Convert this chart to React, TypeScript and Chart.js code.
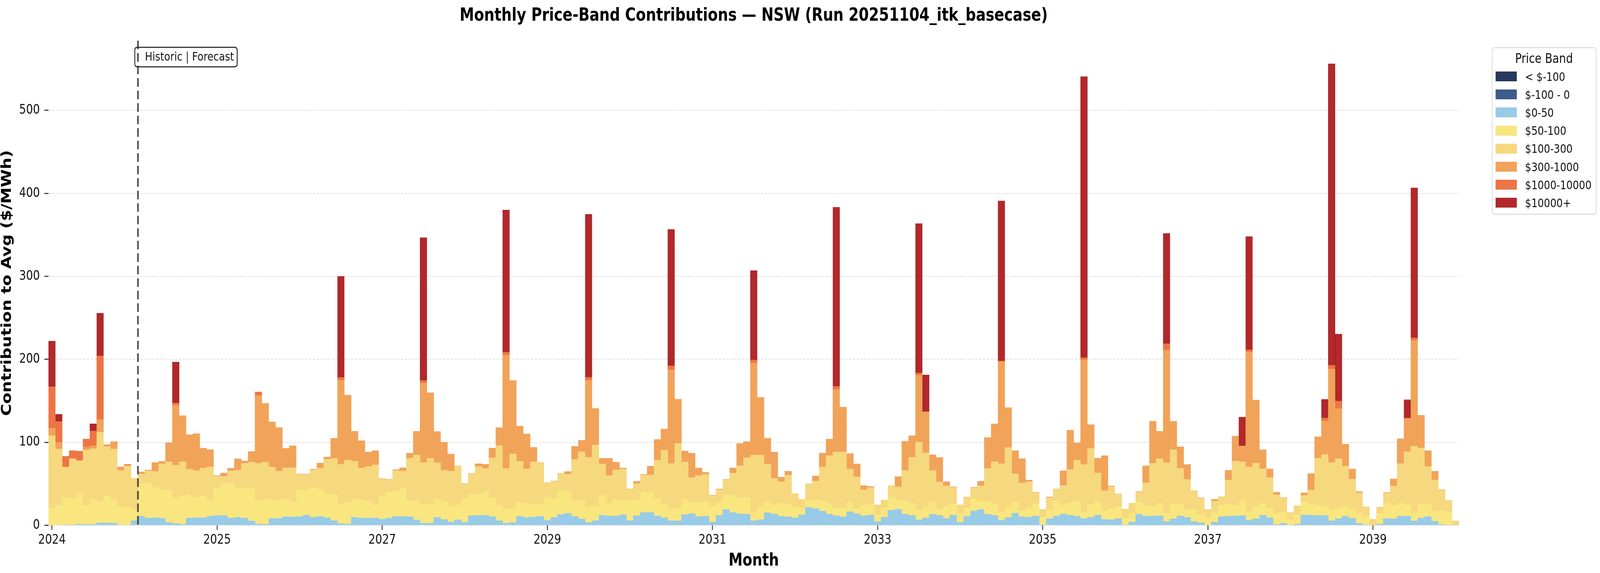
import React, { useEffect, useRef } from "react";
import { Chart, registerables } from "chart.js";

Chart.register(...registerables);

// ---------- Text ----------
const chartTitle = "Monthly Price-Band Contributions — NSW (Run 20251104_itk_basecase)";
const xAxisTitle = "Month";
const yAxisTitle = "Contribution to Avg ($/MWh)";
const legendTitle = "Price Band";
const dividerText = "Historic | Forecast";

// ---------- Categories ----------
const historicStartYear = 2024;
const historicStartMonth = 1;
const historicCount = 13;
const forecastStartYear = 2024;
const forecastStartMonth = 7;
const forecastCount = 192;

function monthLabels(year: number, month: number, count: number): string[] {
  const out: string[] = [];
  let y = year;
  let m = month;
  for (let i = 0; i < count; i++) {
    out.push(`${y}-${String(m).padStart(2, "0")}`);
    m += 1;
    if (m > 12) { m = 1; y += 1; }
  }
  return out;
}

const categories: string[] = [
  ...monthLabels(historicStartYear, historicStartMonth, historicCount),
  ...monthLabels(forecastStartYear, forecastStartMonth, forecastCount),
];

// ---------- Tick labels ----------
const xTickEvery = 24;
const xTickLabels = ["2024", "2025", "2027", "2029", "2031", "2033", "2035", "2037", "2039"];
const yAxisMax = 584;
const yTickStep = 100;

// ---------- Series ----------
const bandNames = ["< $-100", "$-100 - 0", "$0-50", "$50-100", "$100-300", "$300-1000", "$1000-10000", "$10000+"];
const bandColors = ["#26385e", "#3b5d8b", "#97cbe7", "#f9e67f", "#f6d87f", "#f1a35a", "#ed7545", "#b2282b"];
const bandEdges = ["#1f2f50", "#31507a", "#8cc2e2", "#f5df72", "#f1cf70", "#e8913c", "#e4612d", "#9e1a1f"];
const bandEdgeWidths = [0, 0, 0, 0, 0, 0, 0, 1];

const bandBelowNeg100: number[] = [];
const bandNeg100To0: number[] = [];

const band0To50 = [
  0, 0, 0.5, 0, 1.5, 1.3, 1.3, 3, 3, 2.5, 0, 0,
  5.7, 11, 8.8, 9.2, 8.4, 3.5, 2.2, 1.3, 8.8, 9.2, 9.2, 11,
  11.9, 11.9, 8.8, 9.7, 8.8, 5.3, 1.7, 1.3, 8.3, 8.3, 10.5, 10.1,
  10.5, 12.3, 9.8, 10.8, 9.1, 5.7, 2.2, 1.7, 9.8, 8.8, 8.8, 8.9,
  7.4, 8.8, 10.8, 10.8, 10.5, 6.6, 2.5, 2.7, 9.6, 7.1, 4, 6.7,
  3.7, 11.6, 12.1, 12.1, 10.5, 5.7, 2.7, 3.4, 10.8, 9.4, 10.1, 10.8,
  6.1, 9.8, 13.2, 14.5, 10.8, 7.9, 3.5, 5.7, 12.1, 11.3, 11.3, 12.8,
  5.7, 11.6, 15.5, 15.5, 11.3, 9.1, 5.7, 5.4, 13, 14.2, 10.5, 11.1,
  4, 12.1, 18.9, 15.5, 13.8, 13.5, 5.7, 6.7, 15.2, 13.5, 11.1, 10.3,
  9.1, 12.6, 21.9, 20.2, 17.2, 13.5, 11.5, 10.3, 16.5, 14, 11.5, 12.5,
  4.7, 9.8, 18.2, 19.4, 13.5, 12.1, 6.6, 9.1, 13.5, 12, 8.3, 12.3,
  3.5, 11, 17.2, 19.1, 13.5, 12, 6.1, 9.4, 14.7, 10.3, 9.8, 11.3,
  0.7, 7.9, 11.3, 13.7, 12.3, 11, 8.1, 9.8, 12.3, 7.1, 6.7, 8.1,
  0.3, 4, 13.3, 11.1, 11.5, 11.5, 4.7, 7.8, 11.3, 9.6, 4.6, 3,
  0, 4, 10.5, 11, 11.3, 11.8, 6.2, 7.9, 12.3, 9.1, 1, 2.5,
  0, 1.5, 12.5, 12.3, 11.8, 11.8, 5.6, 8.1, 11, 8.6, 2.5, 0.7,
  0, 1.5, 8.1, 7.9, 11.3, 11, 5.4, 8.9, 10.5, 4.9, 1, 0,
  0,
];

const band50To100 = [
  21, 24, 33, 32, 37.5, 22.5, 30.4, 25.6, 33, 28.3, 23.3, 21.6,
  13.7, 38.7, 42.2, 36.6, 34.7, 39.6, 30.4, 33.9, 27.7, 24.3, 26, 19.8,
  33, 37.8, 42.2, 35.6, 35.7, 39.2, 28.3, 30.4, 23.1, 21.4, 21.2, 18.1,
  32.2, 30, 35.4, 32.4, 29, 31.2, 23.6, 25.6, 21.9, 22.1, 20.2, 15.7,
  28, 30.8, 30.3, 34.1, 19.2, 23.2, 23.1, 22.6, 21.8, 21.2, 18.9, 17.8,
  28.5, 25.5, 25.7, 29, 22.6, 18.6, 17.2, 17, 17.4, 17.4, 15.2, 14.2,
  28.3, 21.9, 29.3, 26.8, 18.9, 23.1, 18.6, 17.2, 24.3, 15.7, 20.1, 17.2,
  24.1, 19.4, 24.8, 23.8, 21.2, 16.5, 14, 16.2, 18.4, 13.5, 17.2, 17.4,
  18.9, 15.2, 17.9, 20.6, 19.1, 20.1, 9.8, 16.6, 13.3, 11.1, 15.9, 15.8,
  13.8, 8.3, 8.1, 11.2, 12.5, 13.1, 9.4, 10.3, 11.2, 6.2, 12.8, 13.1,
  8.3, 11.8, 16, 11.5, 16.2, 14.5, 11.3, 13.2, 15, 7.2, 15, 13.3,
  10.7, 9.9, 15, 9.9, 15.7, 13.1, 10.1, 12.7, 13, 7.2, 11.8, 15,
  8.9, 10.6, 18.4, 10.6, 15, 18.2, 7.6, 15.2, 15.9, 10.4, 13.7, 14.3,
  8.5, 10.8, 14.4, 12.7, 11.3, 15.1, 9.8, 17.8, 14.3, 9.6, 14.3, 10.8,
  9.1, 11.3, 13.8, 14.1, 13, 17.7, 10, 15.5, 14.3, 11.5, 13.7, 13.2,
  6.7, 11.3, 15.7, 13.3, 12.5, 10.8, 12.9, 12.8, 12.4, 10.8, 12.5, 10.8,
  0, 13.2, 18.5, 15.9, 15.7, 13.6, 9.3, 16.2, 14.3, 11.8, 16.7, 16.2,
  0,
];

const band100To300 = [
  87, 68, 36.5, 48, 38.5, 67, 60.7, 83.6, 59, 61.2, 42.7, 49.7,
  37.4, 12.3, 14.6, 19.3, 30.9, 33.5, 40, 41.4, 31.3, 32.5, 33.9, 39.6,
  14.5, 9.3, 14.6, 21.2, 30.3, 31.6, 44.9, 44.7, 38.8, 35.6, 37.6, 41.4,
  18.7, 19.1, 21.6, 25.8, 41.5, 43.9, 47.7, 51.3, 45.5, 38.1, 41.8, 48.2,
  20.6, 15.4, 24.8, 20.7, 51.1, 54.9, 50.1, 55.6, 44.1, 38.1, 42.4, 46.8,
  18.2, 25.3, 33, 27.4, 48.2, 71.7, 48.7, 65.8, 48.9, 41.3, 51.3, 50.2,
  16.9, 21.3, 19.9, 20.4, 49.9, 57.7, 59.9, 73.9, 37.5, 33, 35.4, 37.8,
  14.2, 19.3, 20.7, 21.4, 46.1, 65.1, 54.8, 77.2, 45, 30, 32.3, 33.1,
  13.2, 15.5, 18.3, 27, 38.9, 48, 69.2, 61.4, 45.4, 32.1, 25.6, 34.4,
  15.2, 10.5, 20.1, 21.9, 40.5, 57.4, 67.5, 67.8, 40.1, 38.3, 18.4, 19.9,
  11.8, 8.8, 13.7, 15.3, 36.4, 55.4, 82.3, 64.9, 37.6, 33.1, 24.4, 20.3,
  10.6, 13, 13.3, 18.7, 39.4, 51.6, 58, 71.7, 34.4, 33.4, 31, 12.8,
  9.3, 14.9, 14.3, 23.6, 39.8, 49.4, 57.5, 67.7, 35, 24.3, 26.1, 15.5,
  10.8, 11.8, 12.3, 27.5, 51.9, 53.8, 61, 65.6, 43.2, 36.1, 22.8, 18.9,
  9.8, 13.9, 10.3, 29.5, 53.3, 47.1, 54.3, 51.8, 41.5, 36.9, 22.1, 18,
  8.5, 10.5, 7.9, 16.9, 56.5, 62.9, 57.2, 59.5, 47.9, 36.2, 24, 10.9,
  7.4, 7.1, 12.5, 23.6, 47.4, 64.1, 80.7, 68, 46, 37.9, 24.6, 13.5,
  5.1,
];

const band300To1000 = [
  9, 8, 0.7, 1, 1, 3.5, 3.6, 15.4, 1.8, 8.8, 4.4, 1.3,
  0, 2.3, 0.9, 10.6, 3, 22.9, 72.2, 55.4, 41.4, 44.5, 23.8, 20.7,
  0.5, 4, 3.1, 13.6, 2.7, 12.8, 81.6, 70.5, 54.3, 52.4, 23.4, 26.2,
  0.3, 0.3, 0.8, 5.9, 2.7, 24.1, 101.4, 78.2, 36.1, 32.9, 17.6, 17.1,
  0.3, 0.3, 1, 3.7, 6, 28.6, 95.8, 78.8, 37.5, 33.8, 20.4, 0.2,
  0, 0.2, 3.4, 5, 11.8, 21.7, 136.6, 88.2, 42.1, 42, 17.2, 0.3,
  0, 0.3, 0.2, 3.1, 15.5, 13.8, 92.9, 44, 6.7, 20.6, 9.1, 1.3,
  0, 2.7, 0.4, 10.5, 24.8, 25.2, 112.9, 53, 13.1, 29.3, 9.1, 2.1,
  0.3, 0.9, 0.4, 6, 26.7, 19.2, 110.9, 69.4, 31, 31.5, 5.4, 4.6,
  0, 0, 0, 6.1, 16.8, 19.9, 75.5, 53.9, 18.5, 15.4, 5.2, 1.2,
  0, 0, 0, 12.5, 35.1, 25.8, 80.7, 49.6, 18.9, 29.3, 4.7, 0.5,
  0, 0, 0.4, 5.4, 37.1, 45.4, 122.9, 47.9, 27.8, 29.5, 1.9, 0.5,
  0, 0.7, 0, 17.9, 47.4, 20.7, 126.3, 28.5, 17.6, 42, 0.7, 0,
  0, 0, 0.5, 20.2, 50.6, 32.9, 135.6, 34.1, 25.8, 17.9, 0, 0.4,
  0, 2.2, 0, 11.7, 29.8, 19, 138.3, 75.6, 22.8, 10.3, 3, 0,
  0, 0, 3, 19.7, 25.8, 40.3, 112.7, 60.4, 26.5, 12.2, 1.5, 0,
  0, 0, 0.5, 8.4, 29.5, 40.3, 127.7, 39.4, 19.1, 10.5, 0.5, 0,
  0,
];

const band1000To10000 = [
  50, 25, 12.5, 9, 11, 9.7, 17.6, 76.6, 0.4, 0, 0, 0.9,
  0, 0, 0, 0, 0, 0, 2.6, 0, 0, 0, 0, 0,
  0, 0, 0, 0, 0, 0, 4.2, 0, 0, 0, 0, 0,
  0, 0, 0, 0, 0, 0, 3.2, 0, 0, 0, 0, 0,
  0, 0, 0, 0, 0, 0, 2.9, 0, 0, 0, 0, 0,
  0, 0, 0, 0, 0, 0, 3.2, 0, 0.2, 0, 0, 0,
  0, 0, 0, 0, 0, 0, 3.5, 0, 0, 0, 0, 0,
  0, 0, 0, 0, 0, 0, 4.8, 0, 0, 0, 0, 0,
  0, 0, 0, 0, 0, 0, 3.6, 0, 0, 0, 0, 0,
  0, 0, 0, 0, 0, 0, 3.6, 0, 0, 0, 0, 0,
  0, 0, 0, 0, 0, 0, 2.7, 0, 0, 0, 0, 0,
  0, 0, 0, 0, 0, 0, 0.9, 0, 0, 0, 0, 0,
  0, 0, 0, 0, 0, 0, 2.5, 0, 0, 0, 0, 0,
  0, 0, 0, 0, 0, 0, 7.6, 0, 0, 0, 0, 0,
  0, 0, 0, 0, 0, 0, 2.7, 0, 0, 0, 0, 0,
  0, 0, 0, 0, 0, 3.5, 4.3, 8.9, 0, 0, 0, 0,
  0, 0, 0, 0, 0.3, 0, 2.7, 0, 0, 0, 0, 0,
  0,
];

const band10000Plus = [
  55, 9, 0, 0, 0, 0, 8.8, 51.5, 0, 0, 0, 0,
  0, 0, 0, 0, 0, 0, 49.3, 0, 0, 0, 0, 0,
  0, 0, 0, 0, 0, 0, 0, 0, 0, 0, 0, 0,
  0, 0, 0, 0, 0, 0, 121.9, 0, 0, 0, 0, 0,
  0, 0, 0, 0, 0, 0, 172.3, 0, 0, 0, 0, 0,
  0, 0, 0, 0, 0, 0, 171.5, 0, 0, 0, 0, 0,
  0, 0, 0, 0, 0, 0, 196.3, 0, 0, 0, 0, 0,
  0, 0, 0, 0, 0, 0, 164.4, 0, 0, 0, 0, 0,
  0, 0, 0, 0, 0, 0, 107.7, 0, 0, 0, 0, 0,
  0, 0, 0, 0, 0, 0, 215.8, 0, 0, 0, 0, 0,
  0, 0, 0, 0, 0, 0, 180.1, 44.5, 0, 0, 0, 0,
  0, 0, 0, 0, 0, 0, 193, 0, 0, 0, 0, 0,
  0, 0, 0, 0, 0, 0, 338.8, 0, 0, 0, 0, 0,
  0, 0, 0, 0, 0, 0, 133, 0, 0, 0, 0, 0,
  0, 0, 0, 0, 0, 34.8, 136.5, 0, 0, 0, 0, 0,
  0, 0, 0, 0, 0, 22.5, 363.5, 80.8, 0, 0, 0, 0,
  0, 0, 0, 0, 0, 22.4, 180.8, 0, 0, 0, 0, 0,
  0,
];

const bandSeries = [
  bandBelowNeg100,
  bandNeg100To0,
  band0To50,
  band50To100,
  band100To300,
  band300To1000,
  band1000To10000,
  band10000Plus,
];

// ---------- Layout (reference frame 5014 x 1466) ----------
const W = 5014;
const H = 1466;
const FONT = '"DejaVu Sans", "Liberation Sans", sans-serif';
const plotLeft = 152;
const plotRight = 4572;
const plotTop = 104;
const plotBottom = 1344;

const dividerPlugin = {
  id: "historicDivider",
  afterDatasetsDraw(chart: any) {
    const { ctx, chartArea } = chart;
    const x = chart.scales.x;
    const xPos = (x.getPixelForValue(historicCount - 1) + x.getPixelForValue(historicCount)) / 2;
    ctx.save();
    ctx.font = `31px ${FONT}`;
    const tw = ctx.measureText(dividerText).width;
    const bx = xPos - 10;
    const by = chartArea.top + 17;
    const bw = tw + 42;
    const bh = 50;
    const r = 8;
    ctx.beginPath();
    ctx.moveTo(bx + r, by);
    ctx.lineTo(bx + bw - r, by);
    ctx.quadraticCurveTo(bx + bw, by, bx + bw, by + r);
    ctx.lineTo(bx + bw, by + bh - r);
    ctx.quadraticCurveTo(bx + bw, by + bh, bx + bw - r, by + bh);
    ctx.lineTo(bx + r, by + bh);
    ctx.quadraticCurveTo(bx, by + bh, bx, by + bh - r);
    ctx.lineTo(bx, by + r);
    ctx.quadraticCurveTo(bx, by, bx + r, by);
    ctx.closePath();
    ctx.fillStyle = "#ffffff";
    ctx.fill();
    ctx.lineWidth = 2.5;
    ctx.strokeStyle = "#111111";
    ctx.stroke();
    ctx.fillStyle = "#111111";
    ctx.textBaseline = "middle";
    ctx.textAlign = "left";
    ctx.fillText(dividerText, xPos + 22, by + bh / 2 + 1);

    ctx.beginPath();
    ctx.setLineDash([22, 10]);
    ctx.lineWidth = 5;
    ctx.strokeStyle = "rgba(45,45,45,0.85)";
    ctx.moveTo(xPos, chartArea.top);
    ctx.lineTo(xPos, chartArea.bottom);
    ctx.stroke();
    ctx.restore();
  },
};

export default function App() {
  const canvasRef = useRef<HTMLCanvasElement | null>(null);
  const vw = typeof window !== "undefined" ? window.innerWidth : W;
  const vh = typeof window !== "undefined" ? window.innerHeight : H;
  const sx = vw > 0 ? Math.min(1, vw / W) : 1;
  const sy = vh > 0 ? Math.min(1, vh / H) : 1;

  useEffect(() => {
    if (!canvasRef.current) return;
    const datasets = bandNames.map((name, i) => ({
      label: name,
      data: bandSeries[i],
      backgroundColor: bandColors[i],
      borderColor: bandEdges[i],
      borderWidth: bandEdgeWidths[i],
      borderSkipped: "start" as const,
      barPercentage: 1,
      categoryPercentage: 1,
      stack: "bands",
    }));

    const chart = new Chart(canvasRef.current, {
      type: "bar",
      data: { labels: categories, datasets },
      plugins: [dividerPlugin],
      options: {
        animation: false,
        responsive: false,
        devicePixelRatio: 1,
        events: [],
        layout: { padding: { top: plotTop, right: W - plotRight, bottom: 0, left: 0 } },
        plugins: {
          legend: { display: false },
          title: { display: false },
          tooltip: { enabled: false },
        },
        scales: {
          x: {
            stacked: true,
            offset: true,
            border: { display: false },
            grid: {
              display: true,
              offset: false,
              drawOnChartArea: false,
              drawTicks: true,
              tickLength: 12,
              tickWidth: 2.5,
              tickColor: "#222222",
              tickBorderDash: [],
            },
            ticks: {
              autoSkip: false,
              maxRotation: 0,
              minRotation: 0,
              padding: 6,
              color: "#111111",
              font: { family: FONT, size: 34 },
              callback: (_v: any, idx: number) =>
                idx % xTickEvery === 0 ? xTickLabels[idx / xTickEvery] : null,
            },
            title: {
              display: true,
              text: xAxisTitle,
              color: "#000000",
              font: { family: FONT, size: 44, weight: "bold", lineHeight: 1.1 },
              padding: { top: 0, bottom: 6 },
            },
            afterFit: (scale: any) => {
              scale.height = H - plotBottom;
            },
          },
          y: {
            stacked: true,
            min: 0,
            max: yAxisMax,
            border: { display: false, dash: [8, 4] },
            grid: {
              color: "rgba(0,0,0,0.13)",
              lineWidth: 2,
              drawTicks: true,
              tickLength: 13,
              tickWidth: 2.5,
              tickColor: "#222222",
              tickBorderDash: [],
            },
            ticks: {
              stepSize: yTickStep,
              includeBounds: false,
              padding: 14,
              color: "#111111",
              font: { family: FONT, size: 34 },
            },
            title: {
              display: true,
              text: yAxisTitle,
              color: "#000000",
              font: { family: FONT, size: 42, weight: "bold", lineHeight: 1.1 },
              padding: 0,
            },
            afterFit: (scale: any) => {
              scale.width = plotLeft;
            },
          },
        },
      } as any,
    });
    return () => chart.destroy();
  }, []);

  const legendTop = 121;
  const legendLeft = 4675;
  const legendWidth = 328;
  const legendHeight = 428;
  const rowStart = 75;
  const rowStep = 46.2;

  return (
    <div
      style={{
        position: "fixed",
        left: 0,
        top: 0,
        width: W,
        height: H,
        background: "#ffffff",
        overflow: "hidden",
        transform: `scale(${sx}, ${sy})`,
        transformOrigin: "0 0",
      }}
    >
      <canvas
        ref={canvasRef}
        width={W}
        height={H}
        style={{ position: "absolute", left: 0, top: 0, width: W, height: H }}
      />
      <div
        style={{
          position: "absolute",
          left: plotLeft,
          width: plotRight - plotLeft,
          top: 15,
          textAlign: "center",
          fontFamily: FONT,
          fontWeight: "bold",
          fontSize: 45.5,
          lineHeight: "46px",
          color: "#000",
          whiteSpace: "nowrap",
        }}
      >
        {chartTitle}
      </div>
      <div
        style={{
          position: "absolute",
          left: legendLeft,
          top: legendTop,
          width: legendWidth,
          height: legendHeight,
          boxSizing: "border-box",
          border: "2.5px solid #d4d4d4",
          borderRadius: 8,
          background: "rgba(255,255,255,0.9)",
          fontFamily: FONT,
          color: "#111",
        }}
      >
        <div
          style={{
            position: "absolute",
            left: 0,
            width: legendWidth - 5,
            top: 9,
            textAlign: "center",
            fontSize: 34,
            lineHeight: "34px",
            whiteSpace: "nowrap",
          }}
        >
          {legendTitle}
        </div>
        {bandNames.map((name, i) => {
          const cy = rowStart + i * rowStep - 2.5;
          return (
            <React.Fragment key={name}>
              <div
                style={{
                  position: "absolute",
                  left: 10,
                  top: cy - 12.5,
                  width: 66,
                  height: 25,
                  boxSizing: "border-box",
                  background: bandColors[i],
                  border: `1.5px solid ${bandEdges[i]}`,
                }}
              />
              <div
                style={{
                  position: "absolute",
                  left: 102,
                  top: cy - 15,
                  fontSize: 31,
                  lineHeight: "31px",
                  whiteSpace: "nowrap",
                }}
              >
                {name}
              </div>
            </React.Fragment>
          );
        })}
      </div>
    </div>
  );
}
